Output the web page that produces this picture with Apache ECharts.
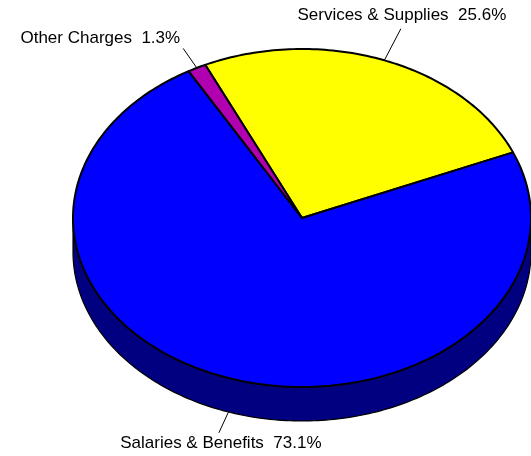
<!DOCTYPE html>
<html><head><meta charset="utf-8">
<script src="https://cdn.jsdelivr.net/npm/echarts@6/dist/echarts.min.js"></script>
<style>html,body{margin:0;padding:0;background:#fff}#c{width:531px;height:456px}</style>
</head><body><div id="c"></div>
<script>
// ---- data ----
const categories = ['Services & Supplies', 'Salaries & Benefits', 'Other Charges'];
const values = [25.6, 73.1, 1.3];
// ---- styles ----
const topColors = ['#FFFF00', '#0000FF', '#B000B0'];
const sideColors = ['#808000', '#000080', '#580058'];
const CX = 302, CY = 218, RX = 229, RY = 169, DEPTH = 34, START = 115;
const leaderF = [1.2, 1.13, 1.13];
const labelPos = [
  {align: 'center', dx: 1, dy: -13},
  {align: 'center', dx: 2, dy: 10},
  {align: 'right', dx: -3, dy: -10}
];
const FONT = '"Liberation Sans", Arial, sans-serif';

function sliceAngles(vals) {
  const total = vals.reduce((a, b) => a + b, 0);
  let cum = 0;
  return vals.map(v => {
    const a0 = START - cum / total * 360;
    cum += v;
    const a1 = START - cum / total * 360;
    return [a0, a1];
  });
}
function pt(deg, dy) {
  const r = deg * Math.PI / 180;
  return [CX + RX * Math.cos(r), CY - RY * Math.sin(r) + (dy || 0)];
}
function arc(from, to, dy) {
  const n = Math.max(2, Math.ceil(Math.abs(from - to) / 1) + 1);
  const out = [];
  for (let i = 0; i < n; i++) out.push(pt(from + (to - from) * i / (n - 1), dy));
  return out;
}

const chart = echarts.init(document.getElementById('c'), null, {renderer: 'canvas'});
const seriesData = values.map((v, i) => ({value: v, name: categories[i]}));

function renderSide(params, api) {
  const angles = sliceAngles(values);
  const i = params.dataIndex;
  const [a0, a1] = angles[i];
  const children = [];
  for (let k = -2; k <= 2; k++) {
    const lo = Math.max(a1, 180 + 360 * k), hi = Math.min(a0, 360 + 360 * k);
    if (hi > lo) {
      const pts = arc(hi, lo, 0).concat(arc(lo, hi, DEPTH));
      children.push({
        type: 'polygon', shape: {points: pts},
        style: {fill: sideColors[i], stroke: '#000', lineWidth: 1.2, lineJoin: 'round'}
      });
    }
  }
  return {type: 'group', children: children};
}

function renderTop(params, api) {
  const angles = sliceAngles(values);
  const i = params.dataIndex;
  const [a0, a1] = angles[i];
  const v = api.value(0);
  const pts = [[CX, CY]].concat(arc(a0, a1, 0));
  const mid = (a0 + a1) / 2;
  const mr = mid * Math.PI / 180;
  const front = Math.sin(mr) < 0;
  const dy = front ? DEPTH : 0;
  const s = pt(mid, dy);
  const f = leaderF[i];
  const e = [CX + RX * f * Math.cos(mr), CY + dy - RY * f * Math.sin(mr)];
  const lp = labelPos[i];
  return {
    type: 'group',
    children: [
      {type: 'polygon', shape: {points: pts},
       style: {fill: topColors[i], stroke: '#000', lineWidth: 2, lineJoin: 'round'}},
      {type: 'line', shape: {x1: s[0], y1: s[1], x2: e[0], y2: e[1]},
       style: {stroke: '#000', lineWidth: 1}},
      {type: 'text', x: e[0] + lp.dx, y: e[1] + lp.dy,
       style: {text: categories[i] + '  ' + v.toFixed(1) + '%', fill: '#000',
               fontSize: 17, fontFamily: FONT, align: lp.align, verticalAlign: 'middle'}}
    ]
  };
}

chart.setOption({
  backgroundColor: '#fff',
  animation: false,
  series: [
    {type: 'custom', coordinateSystem: 'none', z: 1, silent: true, data: seriesData, renderItem: renderSide},
    {type: 'custom', coordinateSystem: 'none', z: 2, silent: true, data: seriesData, renderItem: renderTop}
  ]
});
</script>
</body></html>
